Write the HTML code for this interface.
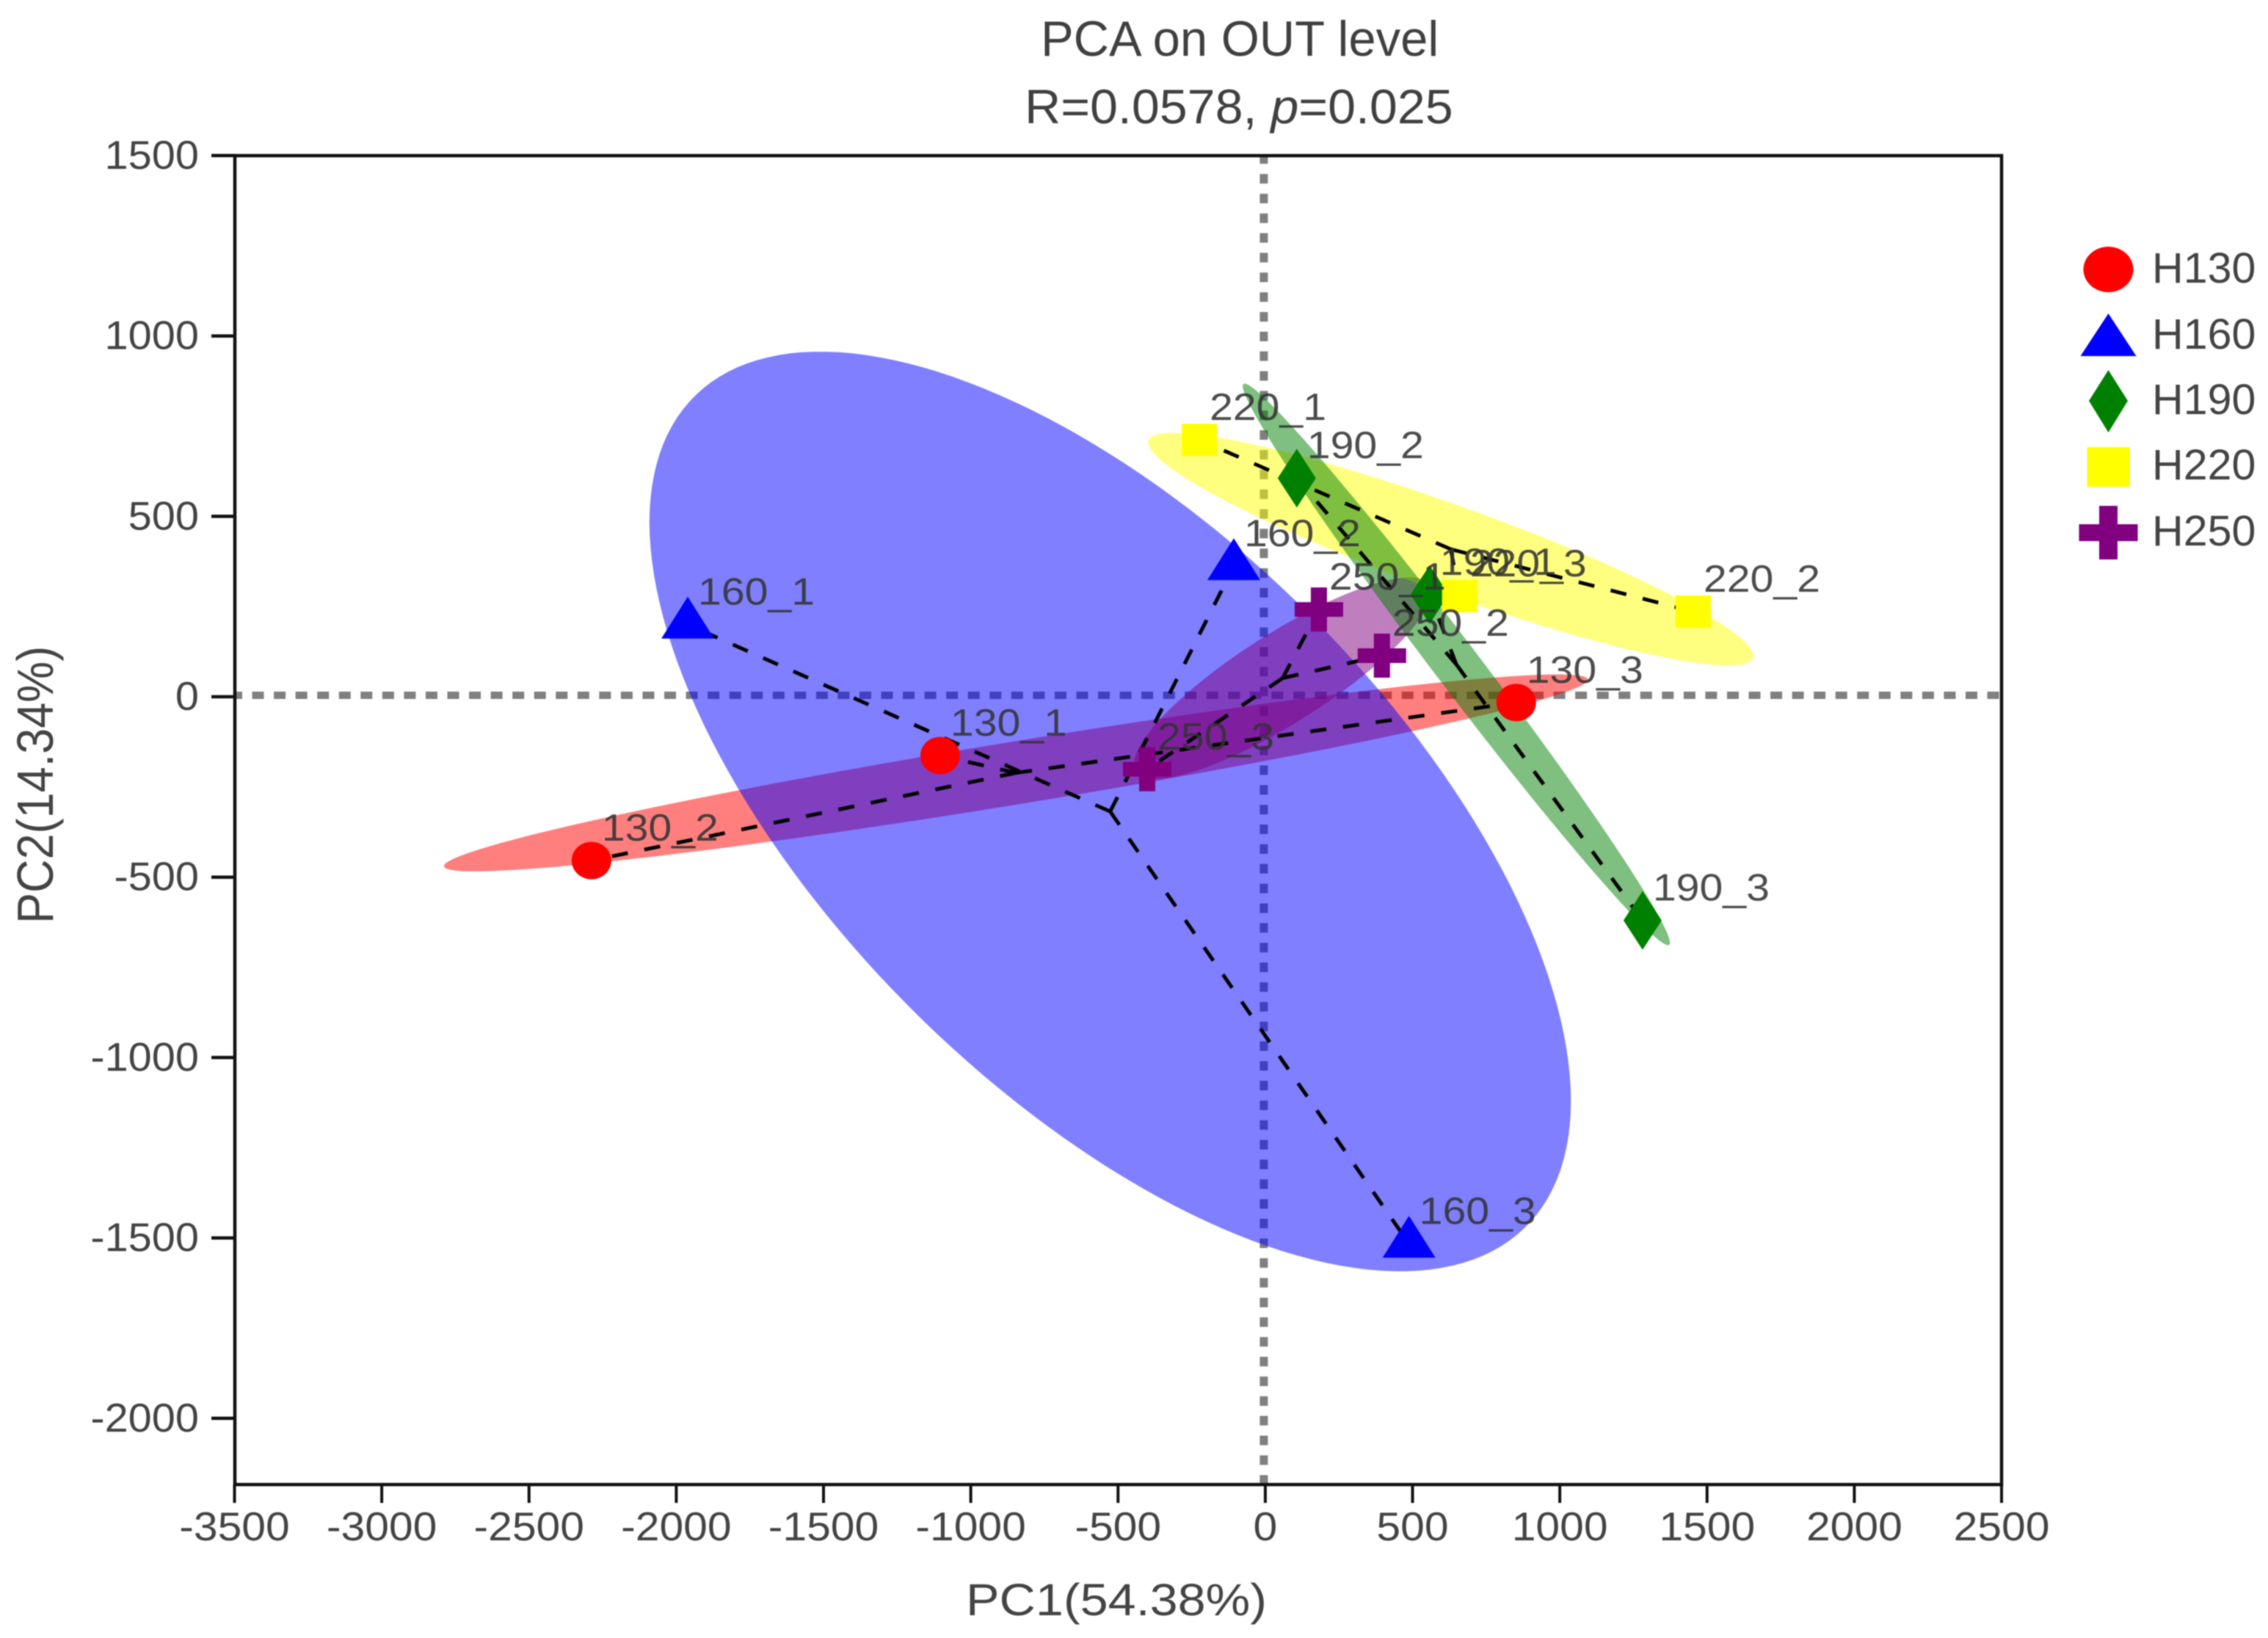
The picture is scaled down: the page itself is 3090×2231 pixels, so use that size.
<!DOCTYPE html>
<html lang="en">
<head>
<meta charset="utf-8">
<title>PCA on OUT level</title>
<style>
  html, body { margin: 0; padding: 0; background: #fff; }
  #chart { display: block; width: 3090px; height: 2231px; filter: blur(0.8px); font-family: "Liberation Sans", sans-serif; }
</style>
</head>
<body>
<svg id="chart" xmlns="http://www.w3.org/2000/svg" width="3090" height="2231" viewBox="0 0 3090 2231">
  <rect x="0" y="0" width="3090" height="2231" fill="#fff"/>
  <defs>
    <clipPath id="plot-clip"><rect x="320" y="212" width="2407" height="1810"/></clipPath>
  </defs>

  <g fill="#404040">
    <text transform="translate(1418,76) scale(0.985,1)" font-size="68">PCA on OUT level</text>
    <text transform="translate(1396,168) scale(1.033,1)" font-size="66">R=0.0578, <tspan font-style="italic">p</tspan>=0.025</text>
  </g>

  <g id="zero-lines" clip-path="url(#plot-clip)"></g>
  <g id="ellipses"></g>
  <g id="spokes"></g>
  <g id="markers"></g>
  <g id="axes"></g>
  <g id="sample-labels"></g>

  <text transform="translate(1316,2200) scale(1.12,1)" font-size="61" fill="#444">PC1(54.38%)</text>
  <text transform="translate(72,1258) rotate(-90) scale(0.9,1)" font-size="70" fill="#444">PC2(14.34%)</text>

  <g>
    <g>
      <ellipse cx="2872.5" cy="367" rx="34" ry="31" fill="#ff0000"/>
      <text transform="translate(2932,385) scale(1.02,1)" font-size="58" fill="#444">H130</text>
    </g>
    <g>
      <polygon points="2872.5,427 2910.5,485 2834.5,485" fill="#0000ff"/>
      <text transform="translate(2932,475) scale(1.02,1)" font-size="58" fill="#444">H160</text>
    </g>
    <g>
      <polygon points="2872.5,504 2899,546 2872.5,589 2846,546" fill="#008000"/>
      <text transform="translate(2932,564) scale(1.02,1)" font-size="58" fill="#444">H190</text>
    </g>
    <g>
      <rect x="2843.5" y="609" width="58" height="54" fill="#ffff00"/>
      <text transform="translate(2932,653) scale(1.02,1)" font-size="58" fill="#444">H220</text>
    </g>
    <g>
      <path d="M2860 689h25v25h27.5v23h-27.5v25h-25v-25h-27.5v-23h27.5z" fill="#800080"/>
      <text transform="translate(2932,743) scale(1.02,1)" font-size="58" fill="#444">H250</text>
    </g>
  </g>
</svg>

<script>
// ---- chart data ----
const xTickValues = [-3500, -3000, -2500, -2000, -1500, -1000, -500, 0, 500, 1000, 1500, 2000, 2500];
const yTickValues = [1500, 1000, 500, 0, -500, -1000, -1500, -2000];

const groupNames = ['H130', 'H160', 'H190', 'H220', 'H250'];

const sampleNamesH130 = ['130_1', '130_2', '130_3'];
const pc1H130 = [-1104, -2288, 852];
const pc2H130 = [-163, -454, -16];

const sampleNamesH160 = ['160_1', '160_2', '160_3'];
const pc1H160 = [-1961, -107, 488];
const pc2H160 = [200, 362, -1516];

const sampleNamesH190 = ['190_1', '190_2', '190_3'];
const pc1H190 = [558, 107, 1281];
const pc2H190 = [283, 606, -620];

const sampleNamesH220 = ['220_1', '220_2', '220_3'];
const pc1H220 = [-224, 1453, 660];
const pc2H220 = [712, 236, 279];

const sampleNamesH250 = ['250_1', '250_2', '250_3'];
const pc1H250 = [182, 396, -401];
const pc2H250 = [242, 114, -201];

// ---- axis functions ----
const SVG_NS = 'http://www.w3.org/2000/svg';
const xPos = function (v) { return 319.5 + (v + 3500) * (2407.5 / 6000); };
const yPos = function (v) { return 949 - v * 0.4914; };

function make(tag, attrs, parent) {
  const el = document.createElementNS(SVG_NS, tag);
  for (const key in attrs) { el.setAttribute(key, attrs[key]); }
  parent.appendChild(el);
  return el;
}

const seriesTable = {
  H130: { names: sampleNamesH130, xs: pc1H130, ys: pc2H130, color: '#ff0000', shape: 'circle' },
  H160: { names: sampleNamesH160, xs: pc1H160, ys: pc2H160, color: '#0000ff', shape: 'triangle' },
  H190: { names: sampleNamesH190, xs: pc1H190, ys: pc2H190, color: '#008000', shape: 'diamond' },
  H220: { names: sampleNamesH220, xs: pc1H220, ys: pc2H220, color: '#ffff00', shape: 'square' },
  H250: { names: sampleNamesH250, xs: pc1H250, ys: pc2H250, color: '#800080', shape: 'plus' }
};

// ---- zero lines ----
const zeroGroup = document.getElementById('zero-lines');
const zeroH = make('line', { x1: 314, x2: 2727, y1: yPos(0) - 2, y2: yPos(0) - 2, stroke: '#808080', 'stroke-width': 10, 'stroke-dasharray': '16 13.55' }, zeroGroup);


const zeroV = make('line', { x1: xPos(0) - 2, x2: xPos(0) - 2, y1: 210.15, y2: 2022, stroke: '#808080', 'stroke-width': 11, 'stroke-dasharray': '13 13.85' }, zeroGroup);



// ---- ellipses, computed from each group's samples ----
const ellipseK = Math.sqrt(1.5);
function mean(a) { return a.reduce(function (s, v) { return s + v; }, 0) / a.length; }
function cov(a, b) {
  const ma = mean(a), mb = mean(b);
  let s = 0;
  for (let i = 0; i < a.length; i++) { s += (a[i] - ma) * (b[i] - mb); }
  return s / (a.length - 1);
}
function ellipsePath(xs, ys) {
  const mx = mean(xs), my = mean(ys);
  const l11 = Math.sqrt(Math.max(cov(xs, xs), 0));
  const l21 = l11 > 0 ? cov(xs, ys) / l11 : 0;
  const l22 = Math.sqrt(Math.max(cov(ys, ys) - l21 * l21, 0));
  let d = '';
  for (let i = 0; i < 180; i++) {
    const t = i / 180 * 2 * Math.PI;
    const u = Math.cos(t), w = Math.sin(t);
    const px = xPos(mx + ellipseK * l11 * u);
    const py = yPos(my + ellipseK * (l21 * u + l22 * w));
    d += (i === 0 ? 'M' : 'L') + px.toFixed(1) + ' ' + py.toFixed(1);
  }
  return d + 'Z';
}
const ellipseGroup = document.getElementById('ellipses');
['H130', 'H160', 'H250', 'H220', 'H190'].forEach(function (name) {
  const s = seriesTable[name];
  const el = make('path', { d: ellipsePath(s.xs, s.ys), fill: s.color, 'fill-opacity': 0.5 }, ellipseGroup);
  
  
});

// ---- spokes from centroid to each sample ----
const spokeGroup = document.getElementById('spokes');
groupNames.forEach(function (name) {
  const s = seriesTable[name];
  const cx = mean(s.xs), cy = mean(s.ys);
  s.xs.forEach(function (v, i) {
    const el = make('line', {
      x1: xPos(cx), y1: yPos(cy), x2: xPos(v), y2: yPos(s.ys[i]),
      stroke: '#000', 'stroke-width': 5, 'stroke-dasharray': '22 23'
    }, spokeGroup);
    
    
  });
});

// ---- markers ----
function drawMarker(shape, cx, cy, color, parent) {
  if (shape === 'circle') {
    return make('ellipse', { cx: cx, cy: cy, rx: 27, ry: 25.5, fill: color }, parent);
  }
  if (shape === 'triangle') {
    return make('polygon', { points: cx + ',' + (cy - 38) + ' ' + (cx + 36) + ',' + (cy + 19) + ' ' + (cx - 36) + ',' + (cy + 19), fill: color }, parent);
  }
  if (shape === 'diamond') {
    return make('polygon', { points: cx + ',' + (cy - 40) + ' ' + (cx + 26) + ',' + cy + ' ' + cx + ',' + (cy + 40) + ' ' + (cx - 26) + ',' + cy, fill: color }, parent);
  }
  if (shape === 'square') {
    return make('rect', { x: cx - 24, y: cy - 22, width: 48, height: 44, fill: color }, parent);
  }
  return make('path', {
    d: 'M' + (cx - 11) + ' ' + (cy - 30) + 'h22v20h22v20h-22v20h-22v-20h-22v-20h22z',
    fill: color
  }, parent);
}
const markerGroup = document.getElementById('markers');
groupNames.forEach(function (name) {
  const s = seriesTable[name];
  s.xs.forEach(function (v, i) {
    const el = drawMarker(s.shape, xPos(v), yPos(s.ys[i]), s.color, markerGroup);
    
    
  });
});

// ---- sample labels ----
const labelGroup = document.getElementById('sample-labels');
groupNames.forEach(function (name) {
  const s = seriesTable[name];
  s.xs.forEach(function (v, i) {
    const el = make('text', {
      transform: 'translate(' + (xPos(v) + 14) + ',' + (yPos(s.ys[i]) - 27) + ') scale(1.1,1)',
      'font-size': 52, fill: '#333', 'fill-opacity': 0.88
    }, labelGroup);
    el.textContent = s.names[i];
    
    
  });
});

// ---- axes ----
const axisGroup = document.getElementById('axes');
const frame = make('rect', { x: 320, y: 212, width: 2407, height: 1810, fill: 'none', stroke: '#111', 'stroke-width': 4.5 }, axisGroup);



xTickValues.forEach(function (v) {
  const tick = make('line', { x1: xPos(v), x2: xPos(v), y1: 2022, y2: 2047, stroke: '#111', 'stroke-width': 4 }, axisGroup);
  
  
  const label = make('text', {
    transform: 'translate(' + xPos(v) + ',2098) scale(1.07,1)',
    'font-size': 55, fill: '#444', 'text-anchor': 'middle'
  }, axisGroup);
  label.textContent = String(v);
  
  
});

yTickValues.forEach(function (v) {
  const tick = make('line', { x1: 288, x2: 320, y1: yPos(v), y2: yPos(v), stroke: '#111', 'stroke-width': 4.5 }, axisGroup);
  
  
  const label = make('text', {
    transform: 'translate(271,' + (yPos(v) + 18) + ') scale(1.05,1)',
    'font-size': 55, fill: '#444', 'text-anchor': 'end'
  }, axisGroup);
  label.textContent = String(v);
  
  
});
</script>
</body>
</html>
